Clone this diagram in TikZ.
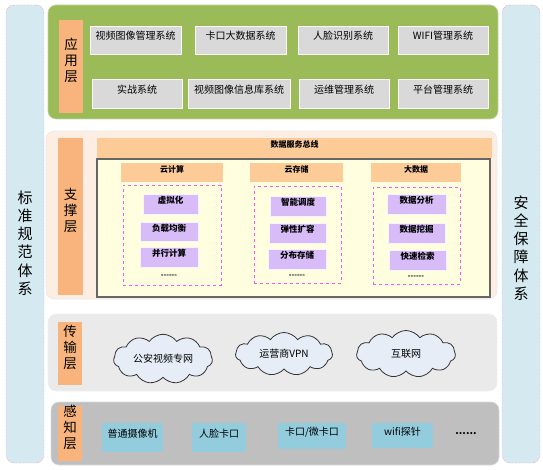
\documentclass[tikz,border=0pt]{standalone}
\usepackage{fontspec}
\newfontfamily\cjk{Noto Sans CJK SC}
\usetikzlibrary{fit,shapes.symbols}
\definecolor{sidefill}{HTML}{D4EAF0}
\definecolor{sideline}{HTML}{F06C80}
\definecolor{appgreen}{HTML}{9BBB59}
\definecolor{lblorange}{HTML}{F8B47C}
\definecolor{appgray}{HTML}{D9D9D9}
\definecolor{suppfill}{HTML}{FDEEE3}
\definecolor{busfill}{HTML}{FCCB98}
\definecolor{creamfill}{HTML}{FFFFDF}
\definecolor{dashmag}{HTML}{FF55EE}
\definecolor{purp}{HTML}{D7BCF8}
\definecolor{transgray}{HTML}{EAEAEA}
\definecolor{cloudfill}{HTML}{E6EDF7}
\definecolor{percgray}{HTML}{BFBFBF}
\definecolor{sensorblue}{HTML}{93CDDD}
\newcommand\R[7]{\node[#1, fit={(#3,#4) (#5,#6)}, inner sep=0pt] (#2) {#7};}
\begin{document}
\begin{tikzpicture}[x=1pt,y=-1pt,
  every node/.style={font=\cjk},
  side/.style={fill=sidefill, draw=sideline, densely dotted, rounded corners=8pt},
  sidetext/.style={font=\cjk\fontsize{15}{18.3}\selectfont, align=center},
  layer/.style={rounded corners=8pt, draw=#1!60!white, line width=0.6pt},
  lbl/.style={fill=lblorange, font=\cjk\fontsize{13.5}{16}\selectfont, align=center},
  appbox/.style={fill=appgray, draw=white!90!appgray, line width=0.8pt, font=\cjk\fontsize{10}{12}\selectfont},
  bus/.style={fill=busfill, font=\cjk\bfseries\fontsize{8}{10}\selectfont},
  cream/.style={fill=creamfill, draw=black!60, line width=1.3pt},
  dbox/.style={draw=dashmag, dashed, line width=0.8pt},
  pbox/.style={fill=purp, draw=white!80!purp, font=\cjk\bfseries\fontsize{8.5}{10}\selectfont},
  cl/.style={cloud, cloud puffs=11, cloud puff arc=110, aspect=2.2, draw=black!80, fill=cloudfill, line width=0.8pt, inner sep=0pt, font=\cjk\fontsize{10}{12}\selectfont},
  sbox/.style={fill=sensorblue, font=\cjk\fontsize{10}{12}\selectfont},
  dots/.style={font=\cjk\bfseries\fontsize{7}{8}\selectfont}
]
\useasboundingbox (0,0) rectangle (543,470);
% side columns
\R{side}{left}{6}{5}{44}{463}{}
\node[sidetext] (lt) at (25,243) {标\\准\\规\\范\\体\\系};
\R{side}{right}{502}{5}{540}{463}{}
\node[sidetext] (rt) at (521,248) {安\\全\\保\\障\\体\\系};
% application layer
\R{layer=appgreen, fill=appgreen}{app}{48}{5}{498}{119}{}
\R{lbl}{appl}{59}{20}{83}{113}{应\\用\\层}
\R{appbox}{a1}{90}{26}{181}{54}{视频图像管理系统}
\R{appbox}{a2}{195}{26}{286}{54}{卡口大数据系统}
\R{appbox}{a3}{298}{26}{388}{54}{人脸识别系统}
\R{appbox}{a4}{398}{26}{488}{54}{WIFI管理系统}
\R{appbox}{b1}{92}{79}{182}{108}{实战系统}
\R{appbox}{b2}{188}{79}{290}{108}{视频图像信息库系统}
\R{appbox}{b3}{299}{79}{389}{108}{运维管理系统}
\R{appbox}{b4}{398}{79}{488}{108}{平台管理系统}
% support layer
\R{layer=suppfill, fill=suppfill, draw=black!8}{supp}{46}{131}{497}{299}{}
\R{lbl}{suppl}{58}{138}{83}{295}{支\\撑\\层}
\R{bus}{busb}{97}{138}{492}{158}{数据服务总线}
\R{cream}{inner}{97}{159}{490}{297}{}
\R{bus}{h1}{121}{163}{223}{182}{云计算}
\R{bus}{h2}{250}{163}{343}{182}{云存储}
\R{bus}{h3}{371}{163}{461}{182}{大数据}
\R{dbox}{d1}{123}{185}{221}{285}{}
\R{dbox}{d2}{254}{186}{341}{283}{}
\R{dbox}{d3}{373}{187}{460}{284}{}
\R{pbox}{p11}{143}{194}{198}{214}{虚拟化}
\R{pbox}{p12}{140}{222}{198}{241}{负载均衡}
\R{pbox}{p13}{140}{247}{198}{267}{并行计算}
\node[dots] (e1) at (169,276) {------};
\R{pbox}{p21}{270}{196}{326}{216}{智能调度}
\R{pbox}{p22}{269}{223}{326}{243}{弹性扩容}
\R{pbox}{p23}{268}{249}{326}{269}{分布存储}
\node[dots] (e2) at (297,276) {------};
\R{pbox}{p31}{387}{194}{446}{214}{数据分析}
\R{pbox}{p32}{388}{223}{445}{243}{数据挖掘}
\R{pbox}{p33}{389}{250}{446}{270}{快速检索}
\node[dots] (e3) at (416,277) {------};
% transport layer
\R{layer=transgray, fill=transgray, draw=black!6}{trans}{48}{314}{497}{391}{}
\R{lbl}{transl}{58}{322}{82}{385}{传\\输\\层}
\node[cl, minimum width=99pt, minimum height=46pt] (c1) at (163,359) {公安视频专网};
\node[cl, minimum width=97pt, minimum height=43pt] (c2) at (284,354) {运营商VPN};
\node[cl, minimum width=99pt, minimum height=47pt] (c3) at (406,354) {互联网};
% perception layer
\R{layer=percgray, fill=percgray, draw=black!15}{perc}{51}{402}{499}{465}{}
\R{lbl}{percl}{58}{406}{82}{461}{感\\知\\层}
\R{sbox}{s1}{102}{423}{163}{452}{普通摄像机}
\R{sbox}{s2}{192}{423}{246}{452}{人脸卡口}
\R{sbox}{s3}{278}{423}{346}{449}{卡口/微卡口}
\R{sbox}{s4}{372}{423}{433}{448}{wifi探针}
\node[font=\cjk\bfseries\fontsize{10}{12}\selectfont] (s5) at (466,434) {......};
\end{tikzpicture}
\end{document}
